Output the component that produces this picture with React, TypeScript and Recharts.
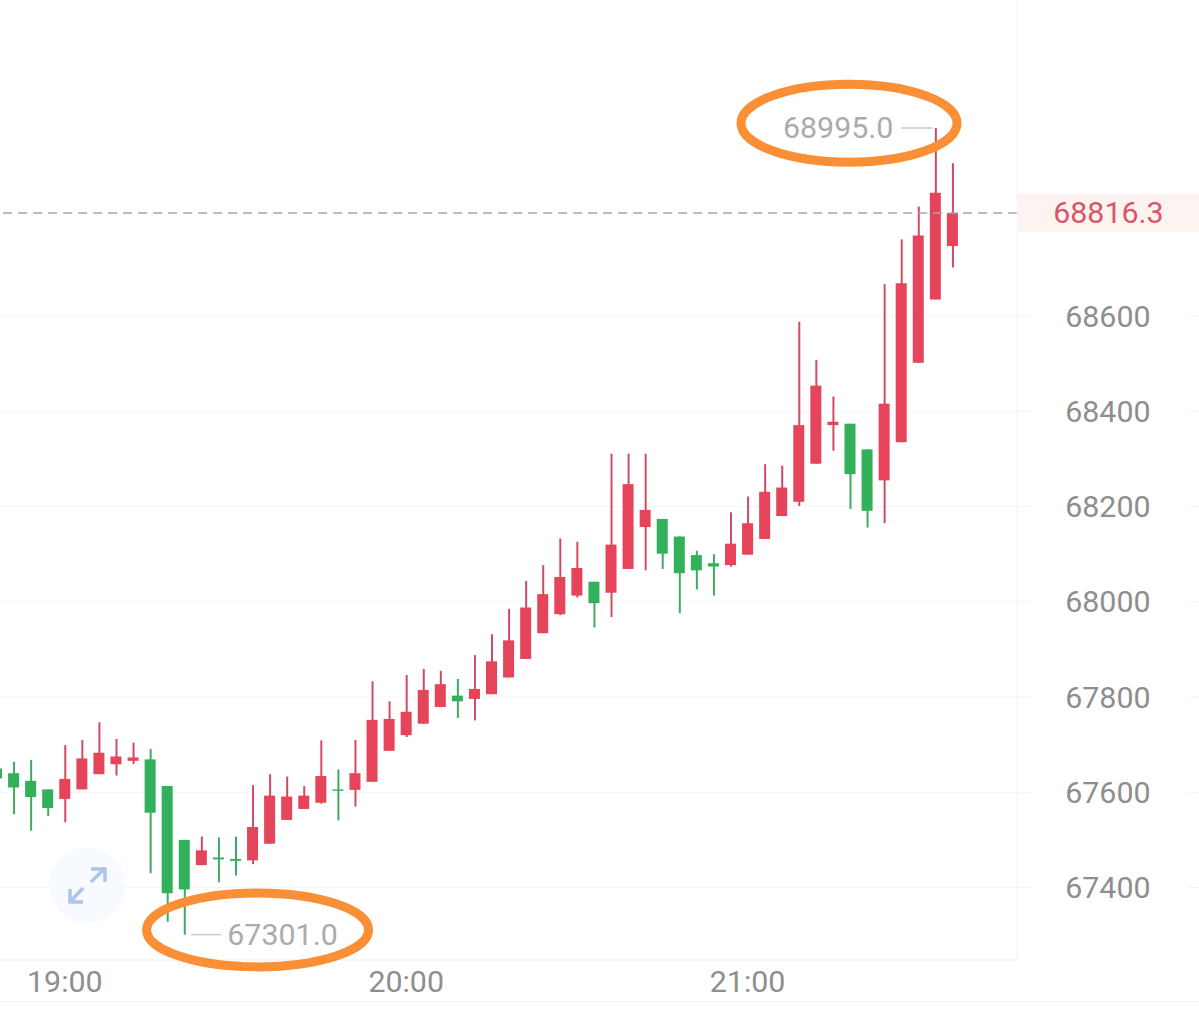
import {
  Bar,
  CartesianGrid,
  Cell,
  ComposedChart,
  ReferenceDot,
  ReferenceLine,
  XAxis,
  YAxis,
} from "recharts";

// 3 minute candles, the last three slots are empty room on the right
const times = [
  "18:48", "18:51", "18:54", "18:57", "19:00", "19:03", "19:06", "19:09", "19:12", "19:15",
  "19:18", "19:21", "19:24", "19:27", "19:30", "19:33", "19:36", "19:39", "19:42", "19:45",
  "19:48", "19:51", "19:54", "19:57", "20:00", "20:03", "20:06", "20:09", "20:12", "20:15",
  "20:18", "20:21", "20:24", "20:27", "20:30", "20:33", "20:36", "20:39", "20:42", "20:45",
  "20:48", "20:51", "20:54", "20:57", "21:00", "21:03", "21:06", "21:09", "21:12", "21:15",
  "21:18", "21:21", "21:24", "21:27", "21:30", "21:33", "21:36", "21:39", "21:42", "21:45",
];

const opens = [
  67650, 67640, 67624, 67606, 67586, 67606, 67638, 67659, 67666, 67669,
  67613, 67500, 67447, 67463, 67460, 67457, 67492, 67542, 67565, 67578,
  67606, 67605, 67622, 67687, 67720, 67744, 67779, 67803, 67796, 67806,
  67841, 67880, 67934, 67974, 68013, 68042, 68019, 68069, 68157, 68174,
  68137, 68098, 68081, 68077, 68099, 68132, 68180, 68210, 68290, 68371,
  68374, 68320, 68255, 68335, 68502, 68635, 68747,
];
const highs = [
  67659, 67664, 67668, 67606, 67699, 67710, 67747, 67712, 67704, 67691,
  67613, 67500, 67507, 67505, 67507, 67615, 67638, 67633, 67613, 67709,
  67648, 67710, 67833, 67791, 67846, 67859, 67855, 67838, 67888, 67932,
  67985, 68044, 68077, 68133, 68126, 68042, 68311, 68311, 68311, 68174,
  68137, 68107, 68100, 68188, 68221, 68289, 68286, 68588, 68508, 68431,
  68374, 68320, 68667, 68761, 68830, 68995, 68921,
];
const lows = [
  67622, 67554, 67519, 67550, 67537, 67606, 67638, 67635, 67659, 67430,
  67328, 67301, 67447, 67411, 67425, 67449, 67492, 67542, 67565, 67576,
  67541, 67570, 67622, 67687, 67716, 67744, 67779, 67756, 67751, 67806,
  67841, 67880, 67934, 67972, 68009, 67946, 67968, 68069, 68066, 68069,
  67976, 68026, 68013, 68074, 68099, 68132, 68180, 68201, 68290, 68317,
  68195, 68156, 68165, 68335, 68502, 68635, 68702,
];
const closes = [
  67629, 67610, 67590, 67567, 67628, 67671, 67683, 67675, 67673, 67557,
  67388, 67396, 67478, 67459, 67456, 67527, 67593, 67591, 67593, 67634,
  67603, 67640, 67752, 67754, 67769, 67815, 67827, 67791, 67817, 67875,
  67919, 67988, 68016, 68052, 68071, 67997, 68120, 68247, 68193, 68101,
  68060, 68066, 68074, 68122, 68165, 68231, 68240, 68371, 68454, 68378,
  68268, 68191, 68416, 68669, 68769, 68859, 68816.3,
];

const priceTicks = [67400, 67600, 67800, 68000, 68200, 68400, 68600];
const timeTicks = ["19:00", "20:00", "21:00"];
const lastPrice = 68816.3;
const highestPrice = 68995;
const lowestPrice = 67301;

const rows = times.map((time, i) =>
  i < closes.length
    ? {
        time,
        wick: [lows[i], highs[i]],
        body: [Math.min(opens[i], closes[i]), Math.max(opens[i], closes[i])],
        up: closes[i] >= opens[i],
      }
    : { time, wick: null, body: null, up: true }
);

const RED = "#e5445a";
const GREEN = "#32b05a";

function PriceTick(props: any) {
  const { x, y, payload } = props;
  if (payload.value === lastPrice) {
    return (
      <g>
        <rect x={x} y={y - 19} width={182} height={38} fill="#fdf3f1" />
        <text
          x={x + 36}
          y={y + 10}
          fill="#d9566a"
          fontFamily="Roboto"
          fontSize={30.4}
        >
          {payload.value}
        </text>
      </g>
    );
  }
  return (
    <g>
      <line x1={x} x2={x + 14} y1={y} y2={y} stroke="#f3f3f3" />
      <line x1={x + 172} x2={x + 182} y1={y} y2={y} stroke="#f3f3f3" />
      <text
        x={x + 48}
        y={y + 10.5}
        fill="#8e8e8e"
        fontFamily="Roboto"
        fontSize={30.4}
      >
        {payload.value}
      </text>
    </g>
  );
}

function Oval(props: any) {
  const { cx, cy, dx, rx, ry } = props;
  return (
    <ellipse
      cx={cx + dx}
      cy={cy}
      rx={rx}
      ry={ry}
      fill="none"
      stroke="#fa8f36"
      strokeWidth={9}
    />
  );
}

// extreme price note, line leads from the wick tip to the number
function HighNote(props: any) {
  const { cx, cy, value } = props;
  return (
    <g>
      <line x1={cx - 34} x2={cx - 3} y1={cy} y2={cy} stroke="#c9c9c9" strokeWidth={1.5} />
      <text
        x={cx - 42}
        y={cy + 10.5}
        textAnchor="end"
        fill="#ababab"
        fontFamily="Roboto"
        fontSize={30.4}
      >
        {value}
      </text>
    </g>
  );
}

function LowNote(props: any) {
  const { cx, cy, value } = props;
  return (
    <g>
      <line x1={cx + 7} x2={cx + 37} y1={cy} y2={cy} stroke="#c9c9c9" strokeWidth={1.5} />
      <text
        x={cx + 43}
        y={cy + 10.5}
        fill="#ababab"
        fontFamily="Roboto"
        fontSize={30.4}
      >
        {value}
      </text>
    </g>
  );
}

export default function App() {
  return (
    <div
      style={{
        position: "absolute",
        left: 0,
        top: 0,
        width: 1199,
        height: 1009,
        overflow: "hidden",
        background: "#fff",
      }}
    >
      <div style={{ position: "absolute", left: -12.2, top: 0 }}>
        <ComposedChart
          width={1211.2}
          height={1009}
          data={rows}
          margin={{ top: 0, right: 0, bottom: 0, left: 0 }}
          barGap={0}
        >
          <CartesianGrid
            xAxisId="body"
            yAxisId="price"
            vertical={false}
            stroke="#f6f6f6"
            horizontalValues={priceTicks}
          />
          <XAxis
            xAxisId="body"
            dataKey="time"
            height={49}
            ticks={timeTicks}
            padding={{ left: 0, right: 5 }}
            axisLine={{ stroke: "#efefef" }}
            tickLine={false}
            tickMargin={4}
            tick={{ fill: "#8e8e8e", fontFamily: "Roboto", fontSize: 30.4 }}
          />
          <XAxis
            xAxisId="wick"
            dataKey="time"
            hide
            padding={{ left: 0, right: 5 }}
          />
          <YAxis
            yAxisId="price"
            orientation="right"
            type="number"
            width={182}
            domain={[67247.75, 69263.75]}
            allowDataOverflow
            ticks={[...priceTicks, lastPrice]}
            interval={0}
            axisLine={{ stroke: "#f1f1f1" }}
            tickLine={false}
            tickSize={0}
            tickMargin={0}
            tick={<PriceTick />}
          />
          <ReferenceLine
            xAxisId="body"
            yAxisId="price"
            y={lastPrice}
            stroke="#a6a6a6"
            strokeWidth={1.5}
            strokeDasharray="9 6"
          />
          <Bar
            xAxisId="wick"
            yAxisId="price"
            dataKey="wick"
            barSize={2}
            isAnimationActive={false}
          >
            {rows.map((row) => (
              <Cell key={row.time} fill={row.up ? "#cf4a62" : "#3fab62"} />
            ))}
          </Bar>
          <Bar
            xAxisId="body"
            yAxisId="price"
            dataKey="body"
            barSize={11}
            isAnimationActive={false}
          >
            {rows.map((row) => (
              <Cell key={row.time} fill={row.up ? RED : GREEN} />
            ))}
          </Bar>
          <ReferenceDot
            xAxisId="body"
            yAxisId="price"
            x="21:33"
            y={highestPrice}
            shape={(p: any) => <HighNote {...p} value="68995.0" />}
          />
          <ReferenceDot
            xAxisId="body"
            yAxisId="price"
            x="19:21"
            y={lowestPrice}
            shape={(p: any) => <LowNote {...p} value="67301.0" />}
          />
          <ReferenceDot
            xAxisId="body"
            yAxisId="price"
            x="21:18"
            y={69005}
            shape={(p: any) => <Oval {...p} dx={-1} rx={108} ry={39} />}
          />
          <ReferenceDot
            xAxisId="body"
            yAxisId="price"
            x="19:33"
            y={67311}
            shape={(p: any) => <Oval {...p} dx={5} rx={111} ry={37} />}
          />
        </ComposedChart>
      </div>
      {/* faint second rule under the time labels */}
      <div
        style={{
          position: "absolute",
          left: 0,
          top: 1001,
          width: 1199,
          height: 1,
          background: "#f3f3f3",
        }}
      />
      {/* expand button */}
      <svg
        style={{ position: "absolute", left: 45, top: 843 }}
        width={84}
        height={84}
        viewBox="45 843 84 84"
      >
        <circle cx={87} cy={885} r={38} fill="#f6f9fe" fillOpacity={0.9} />
        <path
          d="M91 882 L105 868 M91 869 L105 869 L105 882 M83 888 L70 902 M70 889 L70 902 L83 902"
          fill="none"
          stroke="#afc4e9"
          strokeWidth={3.5}
        />
      </svg>
    </div>
  );
}
